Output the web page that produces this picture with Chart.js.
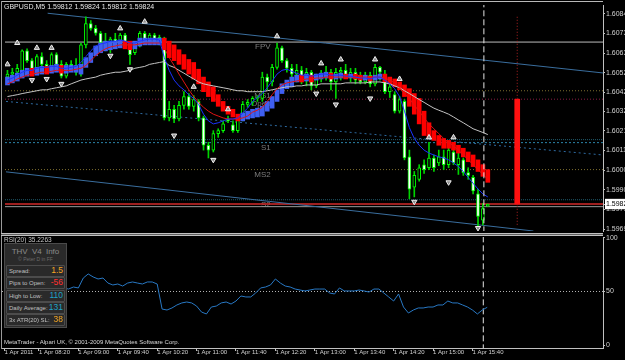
<!DOCTYPE html>
<html>
<head>
<meta charset="utf-8">
<script src="https://cdn.jsdelivr.net/npm/chart.js@4.4.1/dist/chart.umd.min.js"></script>
<style>
  html, body { margin:0; padding:0; background:#000; }
  body { width:625px; height:360px; overflow:hidden; position:relative; font-family:"Liberation Sans", Arial, sans-serif; }
  canvas { position:absolute; left:0; }
  #cMain { top:0; }
  #cRsi { top:230px; }
  .txt { position:absolute; white-space:nowrap; line-height:1; }
  .ln { position:absolute; }
  #info { position:absolute; left:4px; top:243px; width:63px; height:85px; background:#2a2a2a; border:1px solid #4a4a4a; box-sizing:border-box; }
  #info .hd { position:absolute; left:0; width:100%; top:4px; text-align:center; color:#8a8a8a; font-size:8px; line-height:1; word-spacing:2px; }
  #info .cp { position:absolute; left:0; width:100%; top:13px; text-align:center; color:#6a6a6a; font-size:5px; line-height:1; }
  #info .row { position:absolute; left:1px; width:57px; height:10px; border:1px solid #4c4c4c; border-radius:1px; }
  #info .lb { position:absolute; left:2px; top:2px; font-size:6px; color:#c0c0c0; line-height:1; }
  #info .vl { position:absolute; right:1px; top:0px; font-size:8.5px; line-height:1; }
</style>
</head>
<body>
<canvas id="cMain" width="625" height="236"></canvas>
<canvas id="cRsi" width="625" height="130"></canvas>
<div class="ln" style="left:1px;top:1px;width:602px;height:1px;background:#b8b8b8"></div>
<div class="ln" style="left:1px;top:1px;width:1px;height:348px;background:#9a9a9a"></div>
<div class="ln" style="left:1px;top:233px;width:602px;height:1px;background:#c0c0c0"></div>
<div class="ln" style="left:1px;top:234px;width:602px;height:1px;background:#606060"></div>
<div class="ln" style="left:1px;top:235px;width:602px;height:1px;background:#c0c0c0"></div>
<div class="txt" id="title" style="left:4px;top:3px;font-size:7px;color:#e6e6e6"></div>
<div class="txt" id="rsiHead" style="left:4px;top:237px;font-size:6.5px;color:#c8c8c8"></div>
<div id="info"></div>
<div class="txt" id="footer" style="left:4px;top:339px;font-size:6px;color:#d8d8d8"></div>
<script>
// ---------------- DATA ----------------
const symbolTitle = 'GBPUSD,M5';
const slotCount = 122;            // bar slots on the time axis (99 bars + empty future)
const startMinutes = 7 * 60 + 45; // first bar 07:45, M5
const categories = Array.from({length: slotCount}, (_, i) => {
  const m = startMinutes + 5 * i;
  return String(Math.floor(m / 60)).padStart(2, '0') + ':' + String(m % 60).padStart(2, '0');
});
const timeTickBars = [0, 7, 15, 23, 31, 39, 47, 55, 63, 71, 79, 87, 95];
const timeTickText = ['1 Apr 2011', '1 Apr 08:20', '1 Apr 09:00', '1 Apr 09:40', '1 Apr 10:20', '1 Apr 11:00',
  '1 Apr 11:40', '1 Apr 12:20', '1 Apr 13:00', '1 Apr 13:40', '1 Apr 14:20', '1 Apr 15:00', '1 Apr 15:40'];
const priceTicks = [1.60840, 1.60735, 1.60630, 1.60525, 1.60420, 1.60320, 1.60215, 1.60110, 1.60005, 1.59900, 1.59795, 1.59690];
const rsiTicks = [0, 50, 100];

const open = [
1.60502,1.60518,1.60528,1.60538,1.60642,1.60590,1.60528,1.60611,1.60570,1.60559,
1.60622,1.60570,1.60507,1.60570,1.60549,1.60528,1.60674,1.60788,1.60762,1.60736,
1.60694,1.60653,1.60705,1.60684,1.60726,1.60668,1.60632,1.60674,1.60736,1.60705,
1.60726,1.60694,1.60694,1.60284,1.60330,1.60278,1.60351,1.60398,1.60346,1.60372,
1.60284,1.60138,1.60112,1.60200,1.60216,1.60278,1.60247,1.60216,1.60278,1.60356,
1.60367,1.60388,1.60388,1.60502,1.60476,1.60554,1.60658,1.60590,1.60549,1.60518,
1.60538,1.60486,1.60528,1.60455,1.60502,1.60518,1.60528,1.60476,1.60528,1.60538,
1.60507,1.60528,1.60502,1.60476,1.60512,1.60466,1.60554,1.60518,1.60424,1.60408,
1.60320,1.60372,1.60076,1.59914,1.59956,1.60034,1.60018,1.60070,1.60044,1.60076,
1.60034,1.60102,1.60034,1.60060,1.59992,1.59966,1.59878,1.59738,1.59812];
const high = [
1.60538,1.60549,1.60570,1.60648,1.60653,1.60601,1.60622,1.60632,1.60590,1.60632,
1.60632,1.60590,1.60580,1.60590,1.60601,1.60684,1.60824,1.60804,1.60778,1.60746,
1.60736,1.60715,1.60736,1.60736,1.60736,1.60684,1.60684,1.60746,1.60746,1.60736,
1.60736,1.60726,1.60715,1.60372,1.60351,1.60372,1.60424,1.60414,1.60403,1.60382,
1.60294,1.60154,1.60216,1.60226,1.60268,1.60294,1.60268,1.60294,1.60372,1.60382,
1.60398,1.60403,1.60528,1.60518,1.60570,1.60684,1.60668,1.60601,1.60570,1.60570,
1.60559,1.60549,1.60538,1.60518,1.60538,1.60559,1.60544,1.60549,1.60554,1.60570,
1.60549,1.60549,1.60528,1.60528,1.60528,1.60570,1.60559,1.60538,1.60476,1.60424,
1.60398,1.60382,1.60112,1.59998,1.60034,1.60060,1.60154,1.60086,1.60112,1.60112,
1.60138,1.60122,1.60112,1.60070,1.60018,1.59977,1.59904,1.59826,1.59824];
const low = [
1.60466,1.60486,1.60507,1.60528,1.60580,1.60512,1.60518,1.60559,1.60528,1.60549,
1.60559,1.60497,1.60497,1.60538,1.60512,1.60507,1.60658,1.60752,1.60726,1.60663,
1.60642,1.60632,1.60663,1.60674,1.60658,1.60570,1.60622,1.60663,1.60694,1.60684,
1.60684,1.60674,1.60273,1.60268,1.60258,1.60268,1.60330,1.60330,1.60320,1.60268,
1.60112,1.60070,1.60102,1.60180,1.60206,1.60258,1.60206,1.60206,1.60268,1.60341,
1.60351,1.60372,1.60372,1.60434,1.60455,1.60544,1.60580,1.60528,1.60502,1.60476,
1.60466,1.60455,1.60434,1.60445,1.60476,1.60486,1.60434,1.60388,1.60486,1.60497,
1.60476,1.60466,1.60466,1.60466,1.60450,1.60455,1.60486,1.60414,1.60393,1.60310,
1.60310,1.60060,1.59852,1.59862,1.59946,1.59987,1.60008,1.59998,1.60029,1.60008,
1.60018,1.60034,1.59982,1.59977,1.59956,1.59878,1.59706,1.59712,1.59812];
const close = [
1.60518,1.60528,1.60549,1.60642,1.60590,1.60528,1.60611,1.60570,1.60559,1.60622,
1.60570,1.60507,1.60570,1.60559,1.60528,1.60674,1.60788,1.60762,1.60736,1.60684,
1.60653,1.60705,1.60684,1.60726,1.60674,1.60622,1.60674,1.60736,1.60705,1.60726,
1.60694,1.60715,1.60284,1.60330,1.60278,1.60351,1.60398,1.60346,1.60382,1.60284,
1.60138,1.60112,1.60200,1.60216,1.60252,1.60268,1.60216,1.60278,1.60356,1.60367,
1.60388,1.60393,1.60502,1.60476,1.60554,1.60658,1.60590,1.60549,1.60518,1.60538,
1.60486,1.60528,1.60455,1.60502,1.60518,1.60528,1.60476,1.60528,1.60538,1.60507,
1.60528,1.60486,1.60476,1.60512,1.60466,1.60554,1.60528,1.60424,1.60450,1.60320,
1.60382,1.60070,1.59904,1.59977,1.60018,1.60008,1.60070,1.60018,1.60076,1.60034,
1.60112,1.60044,1.60070,1.59992,1.59977,1.59894,1.59758,1.59800,1.59824];

// Heiken Ashi bodies
const haOpen = [
1.60460,1.60471,1.60481,1.60497,1.60507,1.60549,1.60512,1.60518,1.60559,1.60523,
1.60528,1.60564,1.60523,1.60528,1.60528,1.60518,1.60554,1.60580,1.60616,1.60632,
1.60642,1.60648,1.60653,1.60658,1.60694,1.60694,1.60653,1.60668,1.60674,1.60674,
1.60674,1.60674,1.60710,1.60694,1.60674,1.60648,1.60622,1.60596,1.60580,1.60544,
1.60502,1.60476,1.60450,1.60408,1.60372,1.60346,1.60330,1.60304,1.60268,1.60278,
1.60284,1.60289,1.60294,1.60320,1.60336,1.60372,1.60414,1.60440,1.60450,1.60476,
1.60512,1.60481,1.60512,1.60486,1.60492,1.60497,1.60523,1.60492,1.60497,1.60518,
1.60497,1.60518,1.60512,1.60486,1.60507,1.60486,1.60492,1.60518,1.60502,1.60492,
1.60476,1.60460,1.60440,1.60414,1.60388,1.60320,1.60258,1.60216,1.60190,1.60174,
1.60164,1.60154,1.60138,1.60122,1.60102,1.60086,1.60060,1.60034,1.60008];
const haClose = [
1.60502,1.60512,1.60523,1.60538,1.60549,1.60507,1.60554,1.60559,1.60518,1.60564,
1.60570,1.60523,1.60564,1.60564,1.60564,1.60570,1.60606,1.60632,1.60668,1.60684,
1.60694,1.60694,1.60694,1.60700,1.60653,1.60648,1.60694,1.60710,1.60710,1.60710,
1.60710,1.60710,1.60648,1.60606,1.60590,1.60570,1.60544,1.60518,1.60492,1.60466,
1.60424,1.60398,1.60372,1.60346,1.60320,1.60304,1.60289,1.60268,1.60310,1.60320,
1.60330,1.60336,1.60346,1.60372,1.60398,1.60434,1.60466,1.60486,1.60502,1.60512,
1.60476,1.60518,1.60476,1.60518,1.60523,1.60528,1.60492,1.60518,1.60523,1.60492,
1.60518,1.60492,1.60486,1.60512,1.60481,1.60512,1.60518,1.60476,1.60466,1.60450,
1.60434,1.60398,1.60346,1.60304,1.60252,1.60190,1.60180,1.60164,1.60138,1.60122,
1.60122,1.60112,1.60096,1.60076,1.60050,1.60024,1.59998,1.59972,1.59940];

// Moving averages
const maRed = [
1.60466,1.60476,1.60492,1.60502,1.60512,1.60518,1.60523,1.60528,1.60528,1.60533,
1.60538,1.60538,1.60538,1.60538,1.60544,1.60549,1.60564,1.60590,1.60616,1.60637,
1.60653,1.60663,1.60668,1.60674,1.60674,1.60674,1.60674,1.60679,1.60684,1.60684,
1.60684,1.60684,1.60658,1.60606,1.60564,1.60518,1.60476,1.60434,1.60398,1.60367,
1.60341,1.60320,1.60304,1.60294,1.60284,1.60278,1.60278,1.60278,1.60284,1.60294,
1.60315,1.60325,1.60341,1.60372,1.60408,1.60440,1.60460,1.60471,1.60476,1.60481,
1.60486,1.60492,1.60492,1.60497,1.60497,1.60502,1.60502,1.60502,1.60502,1.60502,
1.60502,1.60502,1.60502,1.60502,1.60502,1.60502,1.60502,1.60497,1.60486,1.60471,
1.60445,1.60414,1.60388,1.60351,1.60320,1.60284,1.60252,1.60226,1.60200,1.60174,
1.60154,1.60133,1.60112,1.60086,1.60060,1.60034,1.60008,1.59982,1.59956];
const maBlue = [
1.60486,1.60497,1.60512,1.60528,1.60538,1.60538,1.60549,1.60554,1.60554,1.60559,
1.60559,1.60549,1.60549,1.60554,1.60559,1.60580,1.60611,1.60642,1.60668,1.60679,
1.60684,1.60694,1.60694,1.60700,1.60694,1.60684,1.60684,1.60694,1.60700,1.60705,
1.60705,1.60700,1.60606,1.60538,1.60486,1.60455,1.60434,1.60408,1.60388,1.60356,
1.60304,1.60268,1.60252,1.60258,1.60268,1.60278,1.60278,1.60284,1.60310,1.60336,
1.60372,1.60393,1.60414,1.60445,1.60481,1.60518,1.60538,1.60544,1.60533,1.60523,
1.60512,1.60512,1.60507,1.60512,1.60518,1.60518,1.60512,1.60512,1.60512,1.60507,
1.60507,1.60502,1.60497,1.60497,1.60492,1.60502,1.60502,1.60486,1.60466,1.60440,
1.60398,1.60320,1.60232,1.60174,1.60138,1.60112,1.60096,1.60086,1.60076,1.60070,
1.60060,1.60044,1.60024,1.59998,1.59966,1.59935,1.59904,1.59878,1.59862];
const maGray = [
1.60398,1.60403,1.60408,1.60414,1.60419,1.60424,1.60429,1.60434,1.60434,1.60440,
1.60445,1.60450,1.60455,1.60466,1.60476,1.60486,1.60492,1.60497,1.60502,1.60512,
1.60518,1.60523,1.60528,1.60528,1.60533,1.60538,1.60549,1.60554,1.60559,1.60570,
1.60575,1.60580,1.60585,1.60564,1.60554,1.60538,1.60523,1.60507,1.60492,1.60476,
1.60466,1.60460,1.60455,1.60450,1.60445,1.60440,1.60434,1.60429,1.60429,1.60424,
1.60424,1.60424,1.60424,1.60429,1.60434,1.60440,1.60445,1.60450,1.60450,1.60455,
1.60455,1.60460,1.60460,1.60460,1.60466,1.60466,1.60466,1.60466,1.60466,1.60471,
1.60471,1.60471,1.60471,1.60471,1.60476,1.60476,1.60476,1.60471,1.60466,1.60455,
1.60445,1.60429,1.60414,1.60398,1.60382,1.60367,1.60351,1.60336,1.60325,1.60315,
1.60304,1.60289,1.60273,1.60258,1.60242,1.60226,1.60216,1.60206,1.60195];

// Fractals
const upFractalBar   = [0, 2, 6, 9, 23, 28, 38, 45, 55, 64, 68, 75, 80, 86, 91];
const upFractalPrice = [1.60570,1.60684,1.60658,1.60658,1.60762,1.60798,1.60450,1.60330,1.60720,1.60575,1.60596,1.60596,1.60492,1.60180,1.60180];
const dnFractalBar   = [5, 8, 11, 21, 25, 34, 42, 63, 67, 74, 83, 90, 96];
const dnFractalPrice = [1.60486,1.60492,1.60466,1.60616,1.60544,1.60190,1.60060,1.60414,1.60356,1.60388,1.59836,1.59940,1.59696];

// RSI(20)
const rsi = [
53.3,51.4,55.1,64.5,60.7,55.1,58.9,57.0,53.3,57.9,
55.1,49.5,53.3,52.3,54.2,53.3,62.6,66.4,63.6,61.7,
62.6,57.9,56.1,57.0,55.1,57.9,58.9,57.9,57.0,58.9,
58.9,57.0,33.6,32.7,34.6,37.4,39.3,40.2,39.3,36.4,
30.8,29.0,35.5,36.4,39.3,40.2,38.3,41.1,45.8,44.9,
44.9,48.6,53.3,54.2,56.1,61.7,57.9,55.1,54.2,52.3,
51.4,50.5,51.4,52.3,52.3,52.3,48.6,47.7,53.3,50.5,
50.5,50.5,51.4,50.5,49.5,52.3,52.3,48.6,44.9,41.1,
47.7,35.5,29.9,32.7,34.6,34.6,35.5,35.5,37.4,37.4,
41.1,39.3,39.3,37.4,35.5,32.7,29.0,32.7,35.2263];
const rsiLevel = 50;

// Levels, pivots, objects
const lastPrice = 1.59824;
const dayOpen = 1.60384;
const dayHigh = 1.60824;
const dayLow = 1.59712;
const dayBarSlot = 104;
const vDashX = 97.2;
const levelPrices = [1.60689, 1.60429, 1.60384, 1.60168, 1.60152, 1.60008, 1.59847, 1.59824, 1.59810];
const pivotNames  = ['FPV', 'MS1', 'Open', 'S1', 'MS2', 'S2'];
const pivotPrices = [1.60689, 1.60429, 1.60384, 1.60152, 1.60008, 1.59847];
const pivotLabelX = 53.7;
const upperTrendX = [8.2, 121.5],  upperTrendY = [1.60843, 1.60524];
const midTrendX   = [-0.3, 121.5], midTrendY   = [1.60372, 1.60086];
const lowTrendX   = [-0.3, 107.3], lowTrendY   = [1.59996, 1.59680];

const infoLabels = ['Spread:', 'Pips to Open:', 'High to Low:', 'Daily Average:', '3x ATR(20) SL:'];
const infoValues = ['1.5', '-56', '110', '131', '38'];

// ---------------- STYLES ----------------
const levelStyles = [
  {c:'#bcbcbc', d:[]}, {c:'#7d6e2e', d:[1,2]}, {c:'#8c1c44', d:[1,2]},
  {c:'#1f5a6c', d:[1,1]}, {c:'#2c84a8', d:[2,2]}, {c:'#7d6e2e', d:[1,2]},
  {c:'#1f5a6c', d:[1,1]}, {c:'#d42a2a', d:[]}, {c:'#9a9a9a', d:[]}
];
const infoValueColors = ['#f5a623', '#ff3030', '#1fa3c8', '#1fa3c8', '#f5a623'];

// ---------------- TEXT ----------------
document.getElementById('title').textContent =
  symbolTitle + '  ' + [open[98], high[98], low[98], close[98]].map(v => v.toFixed(5)).join(' ');
document.getElementById('rsiHead').textContent = 'RSI(20) ' + rsi[rsi.length - 1];
document.getElementById('footer').textContent = 'MetaTrader - Alpari UK, \u00A9 2001-2009 MetaQuotes Software Corp.';
(function buildInfo() {
  const box = document.getElementById('info');
  let html = '<div class="hd">THV V4 Info</div><div class="cp">\u00A9 Peter D in FF</div>';
  infoLabels.forEach((lb, k) => {
    const top = 21 + k * 12.3;
    html += '<div class="row" style="top:' + top + 'px"><span class="lb">' + lb + '</span><span class="vl" style="color:' +
      infoValueColors[k] + '">' + infoValues[k] + '</span></div>';
  });
  box.innerHTML = html;
})();

// ---------------- CHARTS ----------------
Chart.defaults.font.family = '"Liberation Sans", Arial, sans-serif';
Chart.defaults.color = '#d0d0d0';
Chart.defaults.animation = false;

const seg = (xs, ys) => xs.map((x, i) => ({x: x, y: ys[i]}));
const lineDs = (data, color, dash, order, width) => ({
  type: 'line', xAxisID: 'xl', data: data, borderColor: color, borderDash: dash || [],
  borderWidth: width || 1, pointRadius: 0, order: order, tension: 0
});

const datasets = [];
levelPrices.forEach((p, k) => {
  datasets.push(lineDs([{x: -0.5, y: p}, {x: slotCount - 0.5, y: p}], levelStyles[k].c, levelStyles[k].d, 30,
    k === 7 ? 1.5 : 1));
});
datasets.push(lineDs(seg(upperTrendX, upperTrendY), '#3a6e9e', [], 25));
datasets.push(lineDs(seg(midTrendX, midTrendY), '#2e6aa0', [2, 3], 25));
datasets.push(lineDs(seg(lowTrendX, lowTrendY), '#3a6e9e', [], 25));
// candle wicks
datasets.push({type: 'bar', data: low.map((l, i) => [l, high[i]]), backgroundColor: '#00d400',
  barThickness: 1, grouped: false, order: 12, borderWidth: 0});
// candle bodies
datasets.push({type: 'bar', data: open.map((o, i) => [o, close[i]]),
  backgroundColor: open.map((o, i) => close[i] < o ? '#ffffff' : '#000000'),
  borderColor: '#00ff00', borderWidth: 1, borderSkipped: false, minBarLength: 1,
  barThickness: 3, grouped: false, order: 11});
// Heiken Ashi
datasets.push({type: 'bar', data: haOpen.map((o, i) => [o, haClose[i]]),
  backgroundColor: haOpen.map((o, i) => haClose[i] >= o ? '#3f5ff2' : '#ff0000'),
  barThickness: 4, grouped: false, order: 10, borderWidth: 0});
// day range bar
const dayBar = new Array(dayBarSlot).fill(null).concat([[dayOpen, lastPrice]]);
datasets.push({type: 'bar', data: dayBar, backgroundColor: '#ff1010', barThickness: 5, grouped: false, order: 9, borderWidth: 0});
datasets.push(lineDs([{x: dayBarSlot, y: dayHigh}, {x: dayBarSlot, y: dayLow}], '#b02020', [1, 2], 26));
// moving averages
datasets.push({type: 'line', data: maGray, borderColor: '#c4c4c4', borderWidth: 1, pointRadius: 0, order: 5});
datasets.push({type: 'line', data: maRed, borderColor: '#e01414', borderWidth: 1, pointRadius: 0, order: 4});
datasets.push({type: 'line', data: maBlue, borderColor: '#1a32ff', borderWidth: 1, pointRadius: 0, order: 3});
// vertical dashed line
datasets.push(lineDs([{x: vDashX, y: 1.59}, {x: vDashX, y: 1.61}], '#e6e6e6', [6, 3], 2));
// fractals
datasets.push({type: 'line', xAxisID: 'xl', showLine: false, data: seg(upFractalBar, upFractalPrice),
  pointStyle: 'triangle', pointRadius: 3, pointBackgroundColor: '#8c8c8c', pointBorderColor: '#f0f0f0',
  pointBorderWidth: 1, pointRotation: 0, order: 1});
datasets.push({type: 'line', xAxisID: 'xl', showLine: false, data: seg(dnFractalBar, dnFractalPrice),
  pointStyle: 'triangle', pointRadius: 3, pointBackgroundColor: '#8c8c8c', pointBorderColor: '#f0f0f0',
  pointBorderWidth: 1, pointRotation: 180, order: 1});

const pivotLabelPlugin = {
  id: 'pivotLabels',
  beforeDatasetsDraw(chart) {
    const ctx = chart.ctx, y = chart.scales.y, xl = chart.scales.xl;
    ctx.save();
    ctx.font = '8px "Liberation Sans", Arial, sans-serif';
    ctx.fillStyle = '#7c7c7c';
    ctx.textAlign = 'right';
    ctx.textBaseline = 'top';
    const x = xl.getPixelForValue(pivotLabelX);
    pivotNames.forEach((n, k) => ctx.fillText(n, x, y.getPixelForValue(pivotPrices[k]) + 1));
    ctx.restore();
  }
};

new Chart(document.getElementById('cMain'), {
  type: 'bar',
  data: {labels: categories, datasets: datasets},
  plugins: [pivotLabelPlugin],
  options: {
    responsive: false, animation: false, devicePixelRatio: 1,
    layout: {padding: {left: 2, top: 1, right: 0, bottom: 3}},
    plugins: {legend: {display: false}, tooltip: {enabled: false}},
    scales: {
      x: {type: 'category', offset: true, display: false, grid: {offset: false}},
      xl: {type: 'linear', offset: false, min: -0.5, max: slotCount - 0.5, display: false, grid: {offset: false}},
      y: {
        position: 'right', min: 1.59680, max: 1.60887,
        afterBuildTicks: s => { s.ticks = priceTicks.concat([lastPrice]).map(v => ({value: v})); },
        afterFit: s => { s.width = 22; s.paddingTop = 0; s.paddingBottom = 0; },
        grid: {drawOnChartArea: false, drawTicks: true, tickLength: 2, color: '#c0c0c0'},
        border: {display: true, color: '#c0c0c0'},
        ticks: {
          autoSkip: false, padding: 1, font: {size: 7},
          color: c => (c.tick && c.tick.value === lastPrice) ? '#000000' : '#d0d0d0',
          callback: v => Number(v).toFixed(5),
          showLabelBackdrop: c => !!(c.tick && c.tick.value === lastPrice),
          backdropColor: '#ffffff',
          backdropPadding: {top: 1, bottom: 1, left: 1, right: 6}
        }
      }
    }
  }
});

new Chart(document.getElementById('cRsi'), {
  type: 'line',
  data: {
    labels: categories,
    datasets: [
      {data: rsi, borderColor: '#2878c4', borderWidth: 1, pointRadius: 0, order: 1},
      lineDs([{x: -0.5, y: rsiLevel}, {x: slotCount - 0.5, y: rsiLevel}], '#b4b4b4', [1, 2], 3),
      lineDs([{x: vDashX, y: -5}, {x: vDashX, y: 105}], '#e6e6e6', [6, 3], 2)
    ]
  },
  options: {
    responsive: false, animation: false, devicePixelRatio: 1,
    layout: {padding: {left: 2, top: 7, right: 0, bottom: 0}},
    plugins: {legend: {display: false}, tooltip: {enabled: false}},
    scales: {
      x: {
        type: 'category', offset: true,
        afterFit: s => { s.height = 12; s.paddingLeft = 0; s.paddingRight = 0; },
        grid: {offset: false, drawOnChartArea: false, drawTicks: true, tickLength: 3,
          color: c => timeTickBars.includes(c.index) ? '#c0c0c0' : 'rgba(0,0,0,0)'},
        border: {display: true, color: '#c0c0c0'},
        ticks: {
          autoSkip: false, maxRotation: 0, minRotation: 0, align: 'start', padding: -2,
          font: {size: 6}, color: '#d0d0d0',
          callback: (v, i) => { const k = timeTickBars.indexOf(i); return k >= 0 ? timeTickText[k] : ''; }
        }
      },
      xl: {type: 'linear', offset: false, min: -0.5, max: slotCount - 0.5, display: false},
      y: {
        position: 'right', min: -2.8, max: 100.93,
        afterBuildTicks: s => { s.ticks = rsiTicks.map(v => ({value: v})); },
        afterFit: s => { s.width = 22; s.paddingTop = 0; s.paddingBottom = 0; },
        grid: {drawOnChartArea: false, drawTicks: true, tickLength: 2, color: '#c0c0c0'},
        border: {display: true, color: '#c0c0c0'},
        ticks: {autoSkip: false, padding: 1, font: {size: 7}, color: '#d0d0d0'}
      }
    }
  }
});
</script>
</body>
</html>
